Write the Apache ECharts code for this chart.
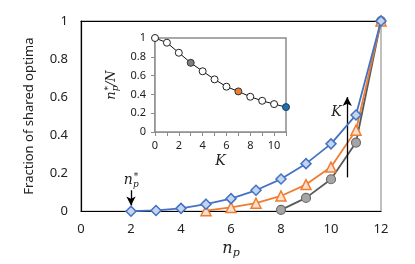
<!DOCTYPE html>
<html><head><meta charset="utf-8">
<script src="https://cdn.jsdelivr.net/npm/echarts@6/dist/echarts.min.js"></script>
<style>html,body{margin:0;padding:0;background:#fff}#c{width:415px;height:264px}</style>
</head><body><div id="c"></div>
<script>
// Main chart data: fraction of shared optima vs n_p
const npBlue = [2,3,4,5,6,7,8,9,10,11,12];
const valBlue = [0,0.004,0.015,0.037,0.066,0.11,0.169,0.25,0.354,0.506,1];
const npOrange = [5,6,7,8,9,10,11,12];
const valOrange = [0.003,0.02,0.042,0.08,0.14,0.232,0.426,1];
const npGray = [8,9,10,11,12];
const valGray = [0.007,0.07,0.168,0.361,1];
// Inset data: n_p*/N vs K
const kVals = [0,1,2,3,4,5,6,7,8,9,10,11];
const ratioVals = [1,0.95,0.843,0.736,0.646,0.56,0.482,0.432,0.375,0.332,0.297,0.265];
const highlightK = {3:'#7f7f7f', 7:'#ED7D31', 11:'#1F6FB4'};

const FONT = 'Noto Sans';
const pairs = (xs, ys) => xs.map((x,i)=>[x, ys[i]]);

const chart = echarts.init(document.getElementById('c'));
const insetData = kVals.map((k,i)=>({
  value:[k, ratioVals[i]],
  itemStyle: highlightK[k] ? {color: highlightK[k], borderColor: k===11?'#1a3d66':'#333'} : undefined
}));
const serifRich = (big, small) => ({
  n:{fontFamily:'DejaVu Serif', fontStyle:'italic', fontSize:big, color:'#222'},
  s:{fontFamily:'DejaVu Serif', fontStyle:'italic', fontSize:small, color:'#222', padding:[big*0.55,0,0,0]},
  sup:{fontFamily:'DejaVu Serif', fontSize:small, color:'#222', padding:[0,0,big*0.55,-5]}
});

chart.setOption({
  animation:false,
  backgroundColor:'#fff',
  textStyle:{fontFamily:FONT},
  grid:[
    {left:81, right:34, top:21, bottom:52, show:true, borderColor:'#808080', borderWidth:1, backgroundColor:'transparent'},
    {left:155, right:129, top:38, bottom:132, show:true, borderColor:'#8c8c8c', borderWidth:1.5, backgroundColor:'#fff', z:5}
  ],
  xAxis:[
    {gridIndex:0, type:'value', min:0, max:12, interval:2,
     name:'{n|n}{s|p}', nameLocation:'middle', nameGap:23,
     nameTextStyle:{rich:serifRich(16,11)},
     axisLine:{show:true, lineStyle:{color:'#000', width:1.2}}, axisTick:{show:false}, splitLine:{show:false},
     axisLabel:{fontFamily:FONT, fontSize:13, color:'#222', margin:12}},
    {gridIndex:1, type:'value', min:0, max:11, interval:1,
     name:'K', nameLocation:'middle', nameGap:22,
     nameTextStyle:{fontFamily:'DejaVu Serif', fontStyle:'italic', fontSize:14, color:'#222'},
     axisLine:{show:true, lineStyle:{color:'#8c8c8c', width:1.5}},
     axisTick:{show:true, length:4, lineStyle:{color:'#8c8c8c'}}, splitLine:{show:false},
     axisLabel:{fontFamily:FONT, fontSize:11, color:'#222', margin:8, formatter:v=> v%2===0 ? String(v) : ''}},
    {gridIndex:0, type:'value', position:'top', min:0, max:12,
     axisLine:{show:true, lineStyle:{color:'#000', width:1.2}}, axisTick:{show:false}, axisLabel:{show:false}, splitLine:{show:false}}
  ],
  yAxis:[
    {gridIndex:0, type:'value', min:0, max:1, interval:0.2,
     name:'Fraction of shared optima', nameLocation:'middle', nameGap:45,
     nameTextStyle:{fontFamily:FONT, fontSize:13, color:'#222'},
     axisLine:{show:true, lineStyle:{color:'#000', width:1.2}}, axisTick:{show:false}, splitLine:{show:false},
     axisLabel:{fontFamily:FONT, fontSize:13, color:'#222', margin:13, formatter:v=>String(+v.toFixed(1))}},
    {gridIndex:1, type:'value', min:0, max:1, interval:0.2,
     name:'{n|n}{s|p}{sup|*}{n|/N}', nameLocation:'middle', nameGap:35,
     nameTextStyle:{rich:serifRich(13,9)},
     axisLine:{show:true, lineStyle:{color:'#8c8c8c', width:1.5}},
     axisTick:{show:true, length:4, lineStyle:{color:'#8c8c8c'}}, splitLine:{show:false},
     axisLabel:{fontFamily:FONT, fontSize:11, color:'#222', margin:9, formatter:v=>String(+v.toFixed(1))}}
  ],
  series:[
    {type:'line', xAxisIndex:0, yAxisIndex:0, data:pairs(npGray,valGray), symbol:'circle', symbolSize:9,
     lineStyle:{color:'#595959', width:1.8}, itemStyle:{color:'#a5a5a5', borderColor:'#6b6b6b', borderWidth:1.2}, z:3},
    {type:'line', xAxisIndex:0, yAxisIndex:0, data:pairs(npOrange,valOrange), symbol:'triangle', symbolSize:10,
     lineStyle:{color:'#ED7D31', width:1.8}, itemStyle:{color:'#fbe0cf', borderColor:'#ED7D31', borderWidth:1.5}, z:4},
    {type:'line', xAxisIndex:0, yAxisIndex:0, data:pairs(npBlue,valBlue), symbol:'diamond', symbolSize:10,
     lineStyle:{color:'#4472C4', width:1.8}, itemStyle:{color:'#c5d5f0', borderColor:'#4472C4', borderWidth:1.5}, z:5,
     markLine:{silent:true, symbol:['none','arrow'], symbolSize:[7,9], lineStyle:{color:'#000', width:1.3, type:'solid'}, label:{show:false},
       data:[
         [{coord:[10.65,0.178]},{coord:[10.65,0.6]}],
         [{coord:[2,0.11]},{coord:[2,0.03]}]
       ]},
     markPoint:{silent:true, symbol:'circle', symbolSize:0,
       data:[
         {coord:[10.22,0.52], label:{show:true, formatter:'K', fontFamily:'DejaVu Serif', fontStyle:'italic', fontSize:14, color:'#222'}},
         {coord:[2,0.16], label:{show:true, formatter:'{n|n}{s|p}{sup|*}', rich:serifRich(14,9)}}
       ]}},
    {type:'line', xAxisIndex:1, yAxisIndex:1, data:insetData, symbol:'circle', symbolSize:7, z:10,
     lineStyle:{color:'#111', width:1}, itemStyle:{color:'#fff', borderColor:'#222', borderWidth:1}}
  ]
});
</script></body></html>
